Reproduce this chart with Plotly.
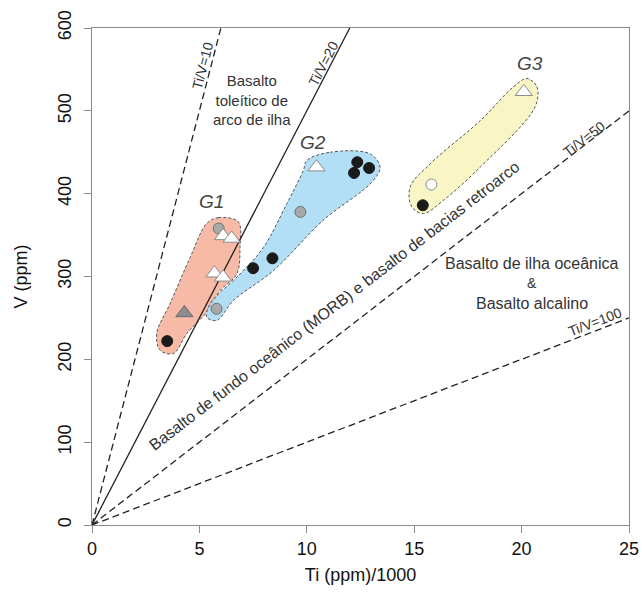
import plotly.graph_objects as go

# ---- data (Ti ppm/1000, V ppm) ----
# reference lines Ti/V ratios
ratios = [10, 20, 50, 100]
ratio_dash = ["7px,4px", "solid", "7px,4px", "7px,4px"]

# G1 samples
g1_black_x = [3.5]; g1_black_y = [222]
g1_graytri_x = [4.3]; g1_graytri_y = [256]
g1_graycirc_x = [5.9]; g1_graycirc_y = [358]
g1_whitetri_x = [6.1, 6.5, 5.7, 6.1]; g1_whitetri_y = [349, 346, 304, 299]

# G2 samples
g2_black_x = [7.5, 8.4, 12.2, 12.35, 12.9]; g2_black_y = [310, 322, 425, 438, 431]
g2_graycirc_x = [5.8, 9.7]; g2_graycirc_y = [261, 378]
g2_whitetri_x = [10.45]; g2_whitetri_y = [432]

# G3 samples
g3_black_x = [15.4]; g3_black_y = [386]
g3_whitecirc_x = [15.8]; g3_whitecirc_y = [411]
g3_whitetri_x = [20.1]; g3_whitetri_y = [523]

# group envelopes
g1_env_x = [5.34, 5.88, 6.81, 6.89, 6.74, 5.96, 5.34, 4.41, 3.79, 3.17, 3.01, 3.63, 4.57, 5.34]
g1_env_y = [364, 371, 366, 335, 303, 283, 257, 231, 207, 211, 231, 267, 323, 364]
g2_env_x = [10.0, 11.09, 12.95, 13.41, 13.03, 10.77, 8.44, 6.58, 5.81, 5.34, 5.5, 6.89, 7.98, 9.07, 9.84, 10.0]
g2_env_y = [440, 450, 448, 432, 414, 368, 307, 271, 247, 251, 267, 303, 335, 388, 428, 440]
g3_env_x = [20.25, 20.71, 20.63, 18.07, 16.36, 15.43, 14.89, 14.81, 15.74, 18.07, 19.62, 20.25]
g3_env_y = [539, 529, 505, 432, 392, 376, 384, 408, 436, 488, 529, 539]

XMAX, YMAX = 25, 600
FONT = "Liberation Sans, Arial, sans-serif"
TXT = "#333333"

fig = go.Figure()

env_fill = ["rgba(245,174,152,0.85)", "rgba(164,217,244,0.85)", "rgba(250,244,190,0.9)"]
for ex, ey, fc in [(g1_env_x, g1_env_y, env_fill[0]), (g2_env_x, g2_env_y, env_fill[1]), (g3_env_x, g3_env_y, env_fill[2])]:
    fig.add_trace(go.Scatter(x=ex, y=ey, mode="lines", fill="toself", fillcolor=fc,
                             line=dict(color="#555555", width=1, dash="3px,2px", shape="spline", smoothing=1.0),
                             hoverinfo="skip", showlegend=False))

# ratio lines from origin
for r, d in zip(ratios, ratio_dash):
    xe = min(XMAX, YMAX * r / 1000)
    ye = xe * 1000 / r
    fig.add_trace(go.Scatter(x=[0, xe], y=[0, ye], mode="lines",
                             line=dict(color="#222222", width=1.3, dash=d),
                             hoverinfo="skip", showlegend=False))

def pts(x, y, symbol, fill, edge, size):
    fig.add_trace(go.Scatter(x=x, y=y, mode="markers",
                             marker=dict(symbol=symbol, size=size, color=fill, line=dict(color=edge, width=1)),
                             showlegend=False))

circ = 11
tri = 15
pts(g1_black_x, g1_black_y, "circle", "#1a1a1a", "#1a1a1a", circ)
pts(g1_graytri_x, g1_graytri_y, "triangle-up", "#8c8c8c", "#6a6a6a", tri)
pts(g1_graycirc_x, g1_graycirc_y, "circle", "#a8a8a8", "#707070", circ)
pts(g1_whitetri_x, g1_whitetri_y, "triangle-up", "#ffffff", "#8a8a8a", tri)
pts(g2_black_x, g2_black_y, "circle", "#1a1a1a", "#1a1a1a", circ)
pts(g2_graycirc_x, g2_graycirc_y, "circle", "#a8a8a8", "#707070", circ)
pts(g2_whitetri_x, g2_whitetri_y, "triangle-up", "#ffffff", "#8a8a8a", tri)
pts(g3_black_x, g3_black_y, "circle", "#1a1a1a", "#1a1a1a", circ)
pts(g3_whitecirc_x, g3_whitecirc_y, "circle", "#ffffff", "#8a8a8a", circ)
pts(g3_whitetri_x, g3_whitetri_y, "triangle-up", "#ffffff", "#8a8a8a", tri)

ann = []
def A(x, y, text, size=15, angle=0, italic=False, color=TXT):
    ann.append(dict(x=x, y=y, xref="x", yref="y", text=text, showarrow=False, textangle=angle,
                    font=dict(family=FONT, size=size, color=color, style="italic" if italic else "normal")))

A(5.15, 554, "Ti/V=10", 14, -75.5)
A(10.75, 557, "Ti/V=20", 14, -62.6)
A(22.9, 466, "Ti/V=50", 14, -37.6)
A(23.4, 245, "Ti/V=100", 14, -21.1)
A(7.45, 513, "Basalto<br>toleítico de<br>arco de ilha", 15)
A(20.47, 316, "Basalto de ilha oceânica", 16)
A(20.47, 292, "&", 14)
A(20.47, 268, "Basalto alcalino", 16)
A(11.3, 265, "Basalto de fundo oceânico (MORB) e basalto de bacias retroarco", 16, -37.6)
A(5.55, 390, "G1", 19, 0, True, "#444444")
A(10.3, 462, "G2", 19, 0, True, "#444444")
A(20.4, 557, "G3", 19, 0, True, "#444444")

axis_common = dict(showgrid=False, zeroline=False, showline=True, linecolor="#8a8a8a", linewidth=1.3,
                   mirror=True, ticks="outside", ticklen=7, tickcolor="#8a8a8a", tickwidth=1.3,
                   automargin=False,
                   tickfont=dict(family=FONT, size=18, color="#111111"))

fig.update_layout(
    width=642, height=593,
    margin=dict(l=92, r=13, t=28, b=68),
    paper_bgcolor="white", plot_bgcolor="white",
    annotations=ann,
    xaxis=dict(range=[0, XMAX], dtick=5, title=dict(text="Ti (ppm)/1000", standoff=10,
               font=dict(family=FONT, size=18, color="#111111")), **axis_common),
    yaxis=dict(range=[0, YMAX], dtick=100, tickangle=-90, ticklabelstandoff=6,
               title=dict(text="V (ppm)", standoff=22,
               font=dict(family=FONT, size=18, color="#111111")), **axis_common),
)

fig.write_html("out.html")
